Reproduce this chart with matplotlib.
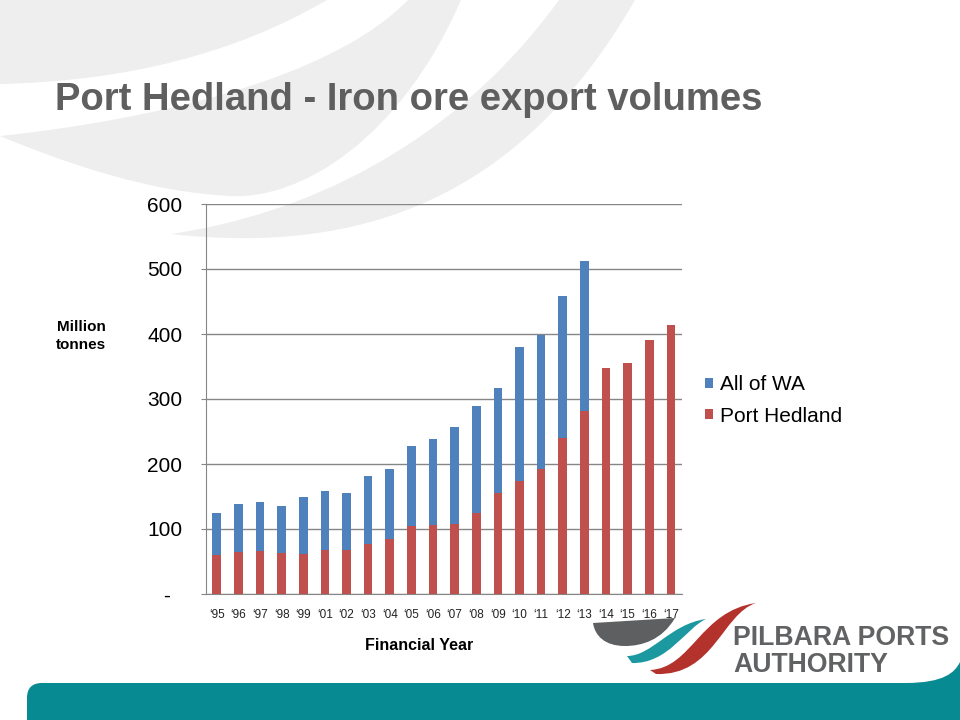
import matplotlib
matplotlib.use("Agg")
import matplotlib.pyplot as plt
from matplotlib.path import Path
from matplotlib.patches import PathPatch
from matplotlib import font_manager

# financial years ('00 is not on the chart)
years = ["95", "96", "97", "98", "99", "01", "02", "03", "04", "05", "06",
         "07", "08", "09", "10", "11", "12", "13", "14", "15", "16", "17"]
year_labels = ["\u2018" + y for y in years]

# million tonnes
port_hedland = [60, 65, 66, 63, 62, 68, 68, 77, 85, 104, 106, 107, 125, 155,
                174, 193, 240, 281, 348, 356, 391, 414]
all_of_wa = [125, 138, 142, 135, 149, 158, 156, 181, 193, 227, 238, 257, 289,
             317, 380, 399, 459, 513]

y_ticks = [0, 100, 200, 300, 400, 500, 600]
y_tick_labels = ["-  ", "100", "200", "300", "400", "500", "600"]

BLUE = "#4f81bd"
RED = "#c0504d"
GRID = "#868686"
LOGO_GREY = "#616264"
TEAL = "#078a92"


def pick(*names):
    for n in names:
        try:
            font_manager.findfont(font_manager.FontProperties(family=n),
                                  fallback_to_default=False)
            return n
        except ValueError:
            pass
    return "DejaVu Sans"


arial = pick("Liberation Sans", "Arial")
narrow = pick("Liberation Sans Narrow", "Arial Narrow", "Liberation Sans")
plt.rcParams["font.family"] = [arial, "DejaVu Sans"]

fig = plt.figure(figsize=(9.6, 7.2), dpi=100)

# slide background, drawn in pixel coordinates
bg = fig.add_axes([0, 0, 1, 1], zorder=0)
bg.set_xlim(0, 960)
bg.set_ylim(720, 0)
bg.axis("off")


def shape(points, codes, color, z=0):
    bg.add_patch(PathPatch(Path(points, codes), facecolor=color,
                           edgecolor="none", zorder=z))


M, L, Q, C, Z = Path.MOVETO, Path.LINETO, Path.CURVE3, Path.CURVE4, Path.CLOSEPOLY
swoosh = "#eeeeee"
# top-left corner piece
shape([(0, 0), (327, 0), (190, 80), (0, 84), (0, 0)], [M, L, Q, Q, Z], swoosh)
# crescent
shape([(408, 0), (461, 0),
       (400, 140), (300, 200), (230, 196),
       (150, 192), (70, 165), (0, 136),
       (150, 120), (330, 80), (408, 0)],
      [M, L, C, C, C, C, C, C, C, C, C], swoosh)
# lower tongue
shape([(559, 0), (635, 0),
       (520, 200), (360, 255), (171, 234),
       (300, 215), (450, 150), (559, 0)],
      [M, L, C, C, C, C, C, C], swoosh)

# teal band at the bottom
shape([(27, 720), (27, 698), (27, 683), (42, 683), (905, 683),
       (945, 683), (955, 672), (960, 662), (960, 720), (27, 720)],
      [M, L, Q, Q, L, C, C, C, L, Z], TEAL)

# logo marks
shape([(593, 623), (675, 618), (662, 640), (642, 646), (625, 646),
       (605, 646), (595, 636), (593, 623)],
      [M, L, C, C, C, C, C, C], "#5e5f61")
shape([(627, 656), (652, 656), (670, 624), (706, 619),
       (686, 628), (668, 664), (632, 663), (627, 656)],
      [M, C, C, C, C, C, C, Z], "#1b98a0")
shape([(650, 670), (692, 668), (700, 611), (756, 603),
       (722, 614), (714, 676), (656, 674), (650, 670)],
      [M, C, C, C, C, C, C, Z], "#b3322b")
logo1 = bg.text(733, 645, "PILBARA PORTS", family=[narrow, "DejaVu Sans"],
                fontweight="bold", fontsize=18, color=LOGO_GREY,
                va="baseline", ha="left")
logo2 = bg.text(733, 672, "AUTHORITY", family=[narrow, "DejaVu Sans"],
                fontweight="bold", fontsize=18, color=LOGO_GREY,
                va="baseline", ha="left")

title = bg.text(55, 110, "Port Hedland - Iron ore export volumes",
                family=[narrow, "DejaVu Sans"], fontweight="bold",
                fontsize=32, color="#5f5f5f", va="baseline", ha="left")

# chart
ax = fig.add_axes([206 / 960, 1 - 594 / 720, 475.7 / 960, 390 / 720], zorder=1)
ax.patch.set_alpha(0)
x = list(range(len(years)))
ax.bar(x, port_hedland, width=0.4, color=RED, zorder=3, label="Port Hedland")
n = len(all_of_wa)
ax.bar(x[:n], [w - p for w, p in zip(all_of_wa, port_hedland[:n])],
       bottom=port_hedland[:n], width=0.4, color=BLUE, zorder=3,
       label="All of WA")

ax.set_xlim(-0.5, len(years) - 0.5)
ax.set_ylim(0, 600)
ax.set_yticks(y_ticks)
ax.set_yticklabels(y_tick_labels)
ax.set_xticks(x)
ax.set_xticklabels(year_labels)
ax.yaxis.grid(True, color=GRID, linewidth=1, zorder=0)
ax.set_axisbelow(True)
for s in ["top", "right"]:
    ax.spines[s].set_visible(False)
ax.spines["left"].set_color(GRID)
ax.spines["bottom"].set_color(GRID)
ax.tick_params(axis="y", length=3.6, color=GRID, pad=13.5, labelsize=15,
               labelcolor="black")
ax.tick_params(axis="x", length=0, pad=11, labelsize=8.5, labelcolor="#222222")

bg.text(419, 645, "Financial Year", fontsize=11.5, fontweight="bold",
        ha="center", va="center")
bg.text(81, 336, "Million\ntonnes", fontsize=11, fontweight="bold",
        ha="center", va="center", linespacing=1.45)

h, lab = ax.get_legend_handles_labels()
leg = ax.legend(h[::-1], lab[::-1], loc="upper left",
                bbox_to_anchor=(705 / 960, 1 - 375 / 720),
                bbox_transform=fig.transFigure, frameon=False, fontsize=15,
                handlelength=0.36, handleheight=0.36, handletextpad=0.36,
                labelspacing=0.6, borderaxespad=0, borderpad=0)

# fit text widths to the slide
fig.canvas.draw()
for t, target in [(title, 710), (logo1, 216), (logo2, 216 * 163 / 217)]:
    w = t.get_window_extent().width
    t.set_fontsize(t.get_fontsize() * target / w)
logo2.set_fontsize(logo1.get_fontsize())

fig.savefig("out.png", dpi=100)
